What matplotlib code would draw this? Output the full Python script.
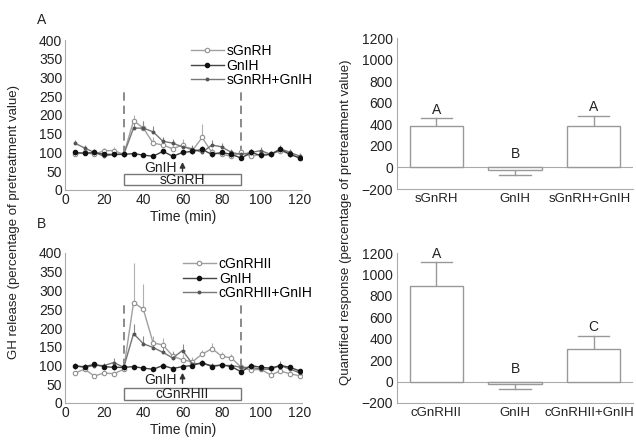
import matplotlib
matplotlib.use("Agg")
import matplotlib.pyplot as plt
from matplotlib.patches import Rectangle
from matplotlib.lines import Line2D
from matplotlib.transforms import ScaledTranslation
import numpy as np

plt.rcParams['font.family'] = ['Liberation Sans', 'DejaVu Sans']

time = [5, 10, 15, 20, 25, 30, 35, 40, 45, 50, 55, 60, 65, 70, 75, 80, 85, 90, 95, 100, 105, 110, 115, 120]

# Panel A
a_sgnrh = [95, 100, 95, 105, 105, 95, 185, 165, 125, 120, 110, 120, 105, 140, 100, 95, 90, 100, 90, 95, 95, 105, 95, 85]
a_sgnrh_err = [8, 8, 8, 8, 10, 8, 15, 18, 15, 15, 15, 15, 10, 35, 12, 10, 10, 10, 8, 8, 8, 10, 8, 8]
a_gnih = [100, 98, 100, 95, 95, 95, 97, 93, 90, 103, 90, 100, 103, 108, 95, 100, 95, 85, 100, 92, 95, 108, 95, 85]
a_gnih_err = [6, 6, 6, 6, 6, 6, 5, 5, 5, 6, 6, 6, 8, 10, 6, 6, 8, 6, 8, 6, 6, 8, 6, 6]
a_combo = [125, 112, 100, 90, 95, 95, 165, 165, 155, 130, 125, 115, 110, 100, 120, 115, 100, 95, 100, 105, 95, 110, 100, 90]
a_combo_err = [8, 8, 8, 8, 8, 8, 25, 20, 15, 12, 12, 12, 10, 10, 12, 10, 10, 10, 8, 10, 8, 10, 8, 8]

# Panel B
b_cgnrh = [80, 90, 72, 80, 78, 90, 268, 250, 160, 155, 125, 115, 110, 130, 145, 125, 120, 95, 88, 90, 75, 85, 78, 72]
b_cgnrh_err = [6, 8, 6, 6, 6, 8, 105, 68, 20, 18, 15, 15, 12, 12, 15, 12, 12, 10, 8, 10, 10, 10, 8, 8]
b_gnih = [98, 97, 103, 97, 95, 95, 97, 93, 90, 100, 92, 97, 100, 108, 97, 102, 97, 83, 100, 95, 93, 100, 95, 85]
b_gnih_err = [6, 6, 6, 6, 6, 6, 5, 5, 5, 6, 6, 6, 6, 8, 6, 6, 6, 6, 6, 6, 6, 8, 6, 6]
b_combo = [100, 95, 100, 100, 108, 95, 185, 158, 148, 135, 120, 140, 105, 105, 100, 100, 100, 95, 95, 90, 90, 100, 90, 80]
b_combo_err = [6, 6, 6, 6, 12, 8, 25, 20, 15, 15, 15, 18, 10, 8, 8, 8, 8, 8, 8, 8, 8, 12, 10, 10]

# Quantified responses
qa_labels = ["sGnRH", "GnIH", "sGnRH+GnIH"]
qa_values = [380, -20, 385]
qa_err = [75, 50, 95]
qa_letters = ["A", "B", "A"]

qb_labels = ["cGnRHII", "GnIH", "cGnRHII+GnIH"]
qb_values = [890, -20, 305]
qb_err = [225, 50, 120]
qb_letters = ["A", "B", "C"]

W, H = 636, 441
fig = plt.figure(figsize=(6.36, 4.41), dpi=100)

def ax_at(l, t, r, b):
    return fig.add_axes([l / W, 1 - b / H, (r - l) / W, (b - t) / H])

fs = 10
spine_c = '#aaaaaa'
txt_c = '#222222'

styles = [
    dict(color='#a0a0a0', lw=1.0, marker='o', ms=3.2, mfc='white', mec='#909090', mew=0.8),
    dict(color='#444444', lw=1.0, marker='o', ms=3.0, mfc='#111111', mec='#111111'),
    dict(color='#777777', lw=1.0, marker='o', ms=1.8, mfc='#555555', mec='#555555'),
]

def time_panel(ax, s1, e1, s2, e2, s3, e3, names, boxlabel, box_y, arrow_y):
    ax.errorbar(time, s1, yerr=[np.zeros(len(e1)), e1], ecolor='#b0b0b0', elinewidth=0.8, capsize=0, zorder=3, **styles[0])
    ax.errorbar(time, s2, yerr=e2, ecolor='#666666', elinewidth=0.8, capsize=0, zorder=4, **styles[1])
    ax.errorbar(time, s3, yerr=[np.zeros(len(e3)), e3], ecolor='#888888', elinewidth=0.8, capsize=0, zorder=3, **styles[2])
    ax.set_xlim(0, 121)
    ax.set_ylim(0, 400)
    ax.set_xticks(range(0, 121, 20))
    ax.set_yticks(range(0, 401, 50))
    ax.tick_params(labelsize=fs, length=0, pad=2, colors=txt_c)
    for s in ['top', 'right']:
        ax.spines[s].set_visible(False)
    for s in ['left', 'bottom']:
        ax.spines[s].set_color(spine_c)
        ax.spines[s].set_linewidth(0.8)
    for xv in (30, 90):
        ax.plot([xv, xv], [95, 268], ls=(0, (5, 3)), color='#777777', lw=1.2, zorder=2)
    ax.add_patch(Rectangle((30, box_y[0]), 60, box_y[1] - box_y[0], fill=False, ec='#777777', lw=1.0, zorder=2))
    ax.text(60, (box_y[0] + box_y[1]) / 2, boxlabel, ha='center', va='center', fontsize=fs, color=txt_c)
    ax.annotate('', xy=(60, arrow_y[1]), xytext=(60, arrow_y[0]),
                arrowprops=dict(arrowstyle='-|>', color='#333333', lw=1.0, mutation_scale=8))
    ax.text(57, arrow_y[0] + 17, 'GnIH', ha='right', va='center', fontsize=fs, color=txt_c)
    handles = [Line2D([], [], **st) for st in styles]
    ax.legend(handles, names, loc='upper right', bbox_to_anchor=(1.08, 1.03), frameon=False, fontsize=fs,
              handlelength=2.4, handletextpad=0.2, labelspacing=0.05, borderaxespad=0.2)
    ax.set_xlabel('Time (min)', fontsize=fs, labelpad=2, color=txt_c)

def bar_panel(ax, labels, values, err, letters):
    x = np.arange(len(values))
    ax.bar(x, values, width=0.68, color='white', edgecolor='#999999', lw=1.0, zorder=2)
    for xi, v, e, let in zip(x, values, err, letters):
        top = v + e if v >= 0 else v - e
        ax.plot([xi, xi], [v, top], color='#999999', lw=1.0, zorder=1)
        ax.plot([xi - 0.2, xi + 0.2], [top, top], color='#999999', lw=1.0, zorder=1)
        ty = (v + e + 80) if v >= 0 else 120
        ax.text(xi, ty, let, ha='center', va='center', fontsize=fs, color=txt_c)
    ax.axhline(0, color='#aaaaaa', lw=0.8, zorder=1)
    ax.set_xlim(-0.5, 2.5)
    ax.set_ylim(-200, 1200)
    ax.set_yticks(range(-200, 1201, 200))
    ax.set_xticks(x)
    ax.set_xticklabels(labels)
    ax.tick_params(labelsize=fs, length=0, pad=3, colors=txt_c)
    ax.tick_params(axis='x', labelsize=9.5)
    last = ax.get_xticklabels()[-1]
    last.set_transform(last.get_transform() + ScaledTranslation(-3 / 72, 0, fig.dpi_scale_trans))
    for s in ['top', 'right']:
        ax.spines[s].set_visible(False)
    for s in ['left', 'bottom']:
        ax.spines[s].set_color(spine_c)
        ax.spines[s].set_linewidth(0.8)

ax1 = ax_at(65, 40, 302, 190)
time_panel(ax1, a_sgnrh, a_sgnrh_err, a_gnih, a_gnih_err, a_combo, a_combo_err,
           ["sGnRH", "GnIH", "sGnRH+GnIH"], "sGnRH", (12, 42), (42, 82))
ax2 = ax_at(65, 253, 302, 403)
time_panel(ax2, b_cgnrh, b_cgnrh_err, b_gnih, b_gnih_err, b_combo, b_combo_err,
           ["cGnRHII", "GnIH", "cGnRHII+GnIH"], "cGnRHII", (8, 40), (45, 88))

ax3 = ax_at(397, 38, 633, 189)
bar_panel(ax3, qa_labels, qa_values, qa_err, qa_letters)
ax4 = ax_at(397, 253, 633, 403)
bar_panel(ax4, qb_labels, qb_values, qb_err, qb_letters)

fig.text(42 / W, 1 - 20 / H, 'A', fontsize=fs, ha='center', va='center', color=txt_c)
fig.text(42 / W, 1 - 224 / H, 'B', fontsize=fs, ha='center', va='center', color=txt_c)
fig.text(14 / W, 1 - 222 / H, 'GH release (percentage of pretreatment value)', rotation=90,
         fontsize=9.5, ha='center', va='center', color=txt_c)
fig.text(346 / W, 1 - 222 / H, 'Quantified response (percentage of pretreatment value)', rotation=90,
         fontsize=9.5, ha='center', va='center', color=txt_c)

fig.savefig('out.png', dpi=100)
